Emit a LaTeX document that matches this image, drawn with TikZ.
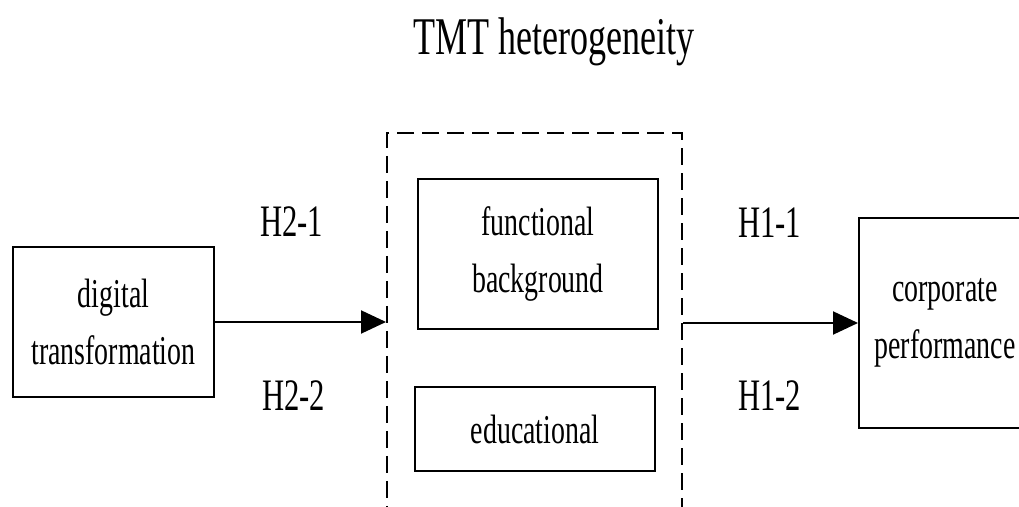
\documentclass[tikz,border=0pt]{standalone}
\usepackage{fontspec}
\setmainfont[FakeStretch=0.68]{Liberation Serif}
\usetikzlibrary{arrows.meta, calc}
\tikzset{
    my-box/.style={
        draw, line width=1pt, align=center, inner sep=0pt,
        font=\fontsize{20.5}{28.5}\selectfont
    },
    my-group/.style={
        draw, line width=1pt, dash pattern=on 8.5pt off 4pt
    },
    my-label/.style={
        anchor=base, font=\fontsize{22.5}{27}\selectfont
    },
    my-arrow/.style={
        line width=1pt, -{Triangle[length=12.5pt, width=11.5pt]}
    },
}

\begin{document}
\begin{tikzpicture}[x=0.5pt, y=-0.5pt]
        \useasboundingbox (0,0) rectangle (1019,507);

        % TITLE
        \node[my-label, font=\fontsize{26.5}{32}\selectfont] (TITLE) at (554,55) {TMT heterogeneity};

        % INPUT
        \node[my-box, minimum width=100.5pt, minimum height=75pt]  (DT)    at (113.5,322) {digital\\transformation};

        % OUTPUT
        \node[my-box, minimum width=86pt, minimum height=105pt]    (CP)    at (945,323)   {corporate\\performance};

        % HETEROGENEITY GROUP
        \node[my-group, minimum width=147.5pt, minimum height=193.5pt] (GROUP) at (534.5,326.5) {};
        \node[my-box, minimum width=120pt, minimum height=75pt]    (FB)    at (538,254)   {functional\\background};
        \node[my-box, minimum width=120pt, minimum height=42pt]    (ED)    at (535,429)   {educational};

        % HYPOTHESES
        \node[my-label] (H21) at (291.5,237) {H2-1};
        \node[my-label] (H22) at (293.5,411) {H2-2};
        \node[my-label] (H11) at (769.5,238) {H1-1};
        \node[my-label] (H12) at (769.5,411) {H1-2};

        % CONNECTIONS
        \draw[my-arrow] (DT.east) -- (DT.east -| GROUP.west);
        \draw[my-arrow] (GROUP.east |- CP.west) -- (CP.west);

\end{tikzpicture}
\end{document}
